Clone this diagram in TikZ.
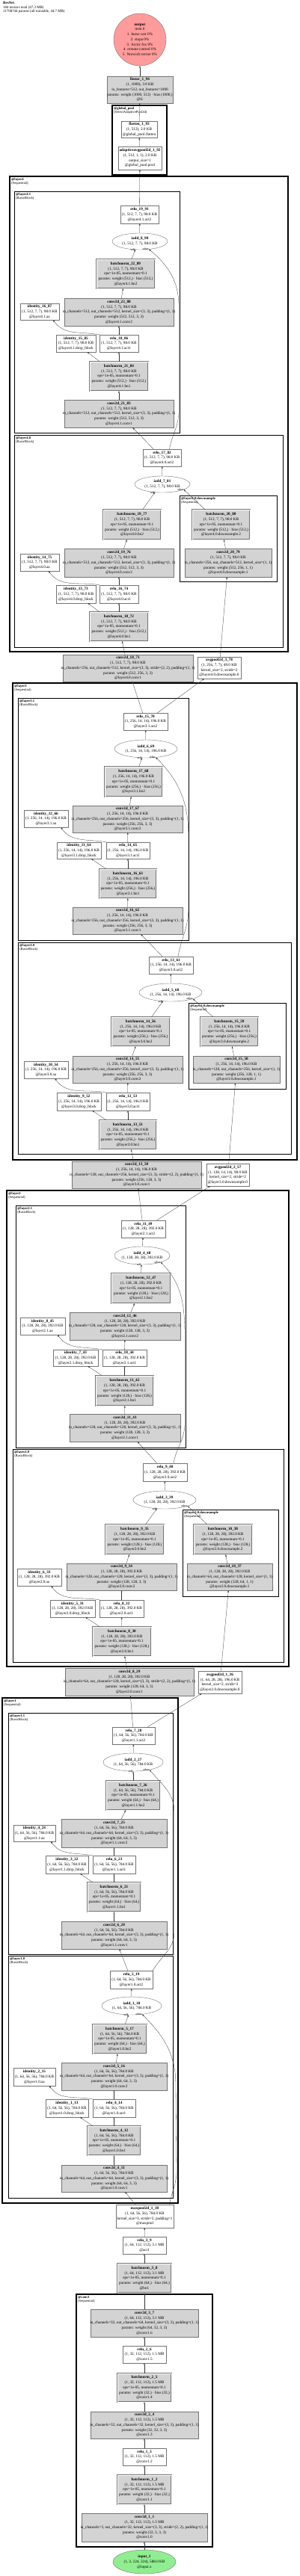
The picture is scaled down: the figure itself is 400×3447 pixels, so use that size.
\documentclass[tikz,border=0pt]{standalone}
\usepackage{fontspec}
\setmainfont{Liberation Serif}
\usetikzlibrary{arrows.meta, shapes.geometric}
\definecolor{ModGrey}{HTML}{D3D3D3}
\definecolor{OutPink}{HTML}{FF9B9B}
\definecolor{InGreen}{HTML}{90EE90}
\newcommand{\nodetext}[1]{\makebox[0pt]{\begin{tabular}{@{}c@{}}#1\end{tabular}}}

\begin{document}
\begin{tikzpicture}[x=1pt, y=-1pt,
  every node/.style={font=\fontsize{5.2}{6.7}\selectfont},
  op/.style={draw=black!55, fill=white, rectangle, inner sep=0pt},
  mod/.style={op, fill=ModGrey},
  bnorm/.style={mod, double=white, double distance=0.9pt, line width=0.4pt},
  sz/.style 2 args={minimum width=#1pt, minimum height=#2pt},
  addop/.style={draw=black!55, fill=white, ellipse, inner sep=0pt},
  clus/.style={draw=black, line width=1.2pt},
  subclus/.style={draw=black, line width=0.9pt},
  clab/.style={anchor=north west, inner sep=0pt, align=left, font=\fontsize{4.6}{5.2}\selectfont},
  flow/.style={-{Triangle[length=2.4pt, width=1.8pt]}, draw=black!80, line width=0.3pt},
  elab/.style={anchor=east, inner sep=0.4pt, font=\fontsize{3.9}{4.5}\selectfont}]
  \useasboundingbox (0,0) rectangle (400,3447);

  % Clusters
  \draw[clus] (150,141) rectangle (223,234);
  \draw[clus] (13,236) rectangle (385,872);
  \draw[subclus] (19,256) rectangle (240,579);
  \draw[subclus] (19,582) rectangle (378,866);
  \draw[subclus] (240,663) rectangle (370,778);
  \draw[clus] (17,914) rectangle (397,1552);
  \draw[subclus] (24,934) rectangle (252,1258);
  \draw[subclus] (24,1261) rectangle (389,1544);
  \draw[subclus] (252,1342) rectangle (382,1457);
  \draw[clus] (9,1593) rectangle (386,2230);
  \draw[subclus] (21,1613) rectangle (248,1937);
  \draw[subclus] (17,1939) rectangle (379,2224);
  \draw[subclus] (244,2020) rectangle (372,2136);
  \draw[clus] (3,2272) rectangle (238,2948);
  \draw[subclus] (11,2292) rectangle (231,2615);
  \draw[subclus] (11,2617) rectangle (231,2941);
  \draw[clus] (102,3070) rectangle (284,3408);
  \node[clab] (gplab) at (152,143) {\textbf{@global\_pool}\\(SelectAdaptivePool2d)};
  \node[clab] (l4lab) at (15,238) {\textbf{@layer4}\\(Sequential)};
  \node[clab] (l41lab) at (21,258) {\textbf{@layer4.1}\\(BasicBlock)};
  \node[clab] (l40lab) at (21,584) {\textbf{@layer4.0}\\(BasicBlock)};
  \node[clab] (ds4lab) at (242,665) {\textbf{@layer4.0.downsample}\\(Sequential)};
  \node[clab] (l3lab) at (19,916) {\textbf{@layer3}\\(Sequential)};
  \node[clab] (l31lab) at (26,936) {\textbf{@layer3.1}\\(BasicBlock)};
  \node[clab] (l30lab) at (26,1263) {\textbf{@layer3.0}\\(BasicBlock)};
  \node[clab] (ds3lab) at (254,1344) {\textbf{@layer3.0.downsample}\\(Sequential)};
  \node[clab] (l2lab) at (11,1595) {\textbf{@layer2}\\(Sequential)};
  \node[clab] (l21lab) at (23,1615) {\textbf{@layer2.1}\\(BasicBlock)};
  \node[clab] (l20lab) at (19,1941) {\textbf{@layer2.0}\\(BasicBlock)};
  \node[clab] (ds2lab) at (246,2022) {\textbf{@layer2.0.downsample}\\(Sequential)};
  \node[clab] (l1lab) at (5,2274) {\textbf{@layer1}\\(Sequential)};
  \node[clab] (l11lab) at (13,2294) {\textbf{@layer1.1}\\(BasicBlock)};
  \node[clab] (l10lab) at (13,2619) {\textbf{@layer1.0}\\(BasicBlock)};
  \node[clab] (c1lab) at (104,3072) {\textbf{@conv1}\\(Sequential)};

  % Header and head
  \node[anchor=north west, align=left, inner sep=0pt, font=\fontsize{4.9}{5.6}\selectfont] (title) at (4,2) {\textbf{ResNet}\\184 tensors total (47.3 MB)\\11708744 params (all trainable, 44.7 MB)};
  \node[circle, draw=black!55, fill=OutPink, minimum size=70pt, inner sep=0pt] (output) at (187,53) {\nodetext{\textbf{output}\\item 0\\1. horse cart 0\%\\2. stupa 0\%\\3. Arctic fox 0\%\\4. remote control 0\%\\5. Norwich terrier 0\%}};
  \node[mod, sz={88}{36}] (linear) at (187,120) {\nodetext{\textbf{linear\_1\_94}\\(1, 1000), 3.9 KB\\in\_features=512, out\_features=1000\\params: weight (1000, 512) · bias (1000,)\\@fc}};
  \node[op, sz={48}{22}] (flatten) at (186,173) {\nodetext{\textbf{flatten\_1\_93}\\(1, 512), 2.0 KB\\@global\_pool.flatten}};
  \node[op, sz={58}{31}] (gap) at (187,211.5) {\nodetext{\textbf{adaptiveavgpool2d\_1\_92}\\(1, 512, 1, 1), 2.0 KB\\output\_size=1\\@global\_pool.pool}};

  % Layer 4, block 1
  \node[op, sz={51}{24}] (relu19) at (186.5,287) {\nodetext{\textbf{relu\_19\_91}\\(1, 512, 7, 7), 98.0 KB\\@layer4.1.act2}};
  \node[addop, sz={74}{22}] (iadd8) at (187,323) {\nodetext{\textbf{iadd\_8\_90}\\(1, 512, 7, 7), 98.0 KB}};
  \node[bnorm, sz={78}{39}] (bn22) at (168,366.5) {\nodetext{\textbf{batchnorm\_22\_89}\\(1, 512, 7, 7), 98.0 KB\\eps=1e-05, momentum=0.1\\params: weight (512,) · bias (512,)\\@layer4.1.bn2}};
  \node[mod, sz={146}{37}] (conv22) at (159,417.5) {\nodetext{\textbf{conv2d\_22\_88}\\(1, 512, 7, 7), 98.0 KB\\in\_channels=512, out\_channels=512, kernel\_size=(3, 3), padding=(1, 1)\\params: weight (512, 512, 3, 3)\\@layer4.1.conv2}};
  \node[op, sz={52}{22}] (id16) at (53,417) {\nodetext{\textbf{identity\_16\_87}\\(1, 512, 7, 7), 98.0 KB\\@layer4.1.aa}};
  \node[op, sz={53}{23}] (id15) at (101.5,459.5) {\nodetext{\textbf{identity\_15\_85}\\(1, 512, 7, 7), 98.0 KB\\@layer4.1.drop\_block}};
  \node[op, sz={52}{23}] (relu18) at (159,459.5) {\nodetext{\textbf{relu\_18\_86}\\(1, 512, 7, 7), 98.0 KB\\@layer4.1.act1}};
  \node[bnorm, sz={78}{39}] (bn21) at (159,503.5) {\nodetext{\textbf{batchnorm\_21\_84}\\(1, 512, 7, 7), 98.0 KB\\eps=1e-05, momentum=0.1\\params: weight (512,) · bias (512,)\\@layer4.1.bn1}};
  \node[mod, sz={146}{37}] (conv21) at (159,553.5) {\nodetext{\textbf{conv2d\_21\_83}\\(1, 512, 7, 7), 98.0 KB\\in\_channels=512, out\_channels=512, kernel\_size=(3, 3), padding=(1, 1)\\params: weight (512, 512, 3, 3)\\@layer4.1.conv1}};

  % Layer 4, block 0
  \node[op, sz={51}{23}] (relu17) at (216.5,612.5) {\nodetext{\textbf{relu\_17\_82}\\(1, 512, 7, 7), 98.0 KB\\@layer4.0.act2}};
  \node[addop, sz={74}{22}] (iadd7) at (217,648) {\nodetext{\textbf{iadd\_7\_81}\\(1, 512, 7, 7), 98.0 KB}};
  \node[bnorm, sz={77}{40}] (bn19) at (176.5,702) {\nodetext{\textbf{batchnorm\_19\_77}\\(1, 512, 7, 7), 98.0 KB\\eps=1e-05, momentum=0.1\\params: weight (512,) · bias (512,)\\@layer4.0.bn2}};
  \node[bnorm, sz={77}{40}] (bn20) at (295.5,702) {\nodetext{\textbf{batchnorm\_20\_80}\\(1, 512, 7, 7), 98.0 KB\\eps=1e-05, momentum=0.1\\params: weight (512,) · bias (512,)\\@layer4.0.downsample.2}};
  \node[mod, sz={146}{38}] (conv19) at (159,753) {\nodetext{\textbf{conv2d\_19\_76}\\(1, 512, 7, 7), 98.0 KB\\in\_channels=512, out\_channels=512, kernel\_size=(3, 3), padding=(1, 1)\\params: weight (512, 512, 3, 3)\\@layer4.0.conv2}};
  \node[mod, sz={116}{38}] (conv20) at (305,753) {\nodetext{\textbf{conv2d\_20\_79}\\(1, 512, 7, 7), 98.0 KB\\in\_channels=256, out\_channels=512, kernel\_size=(1, 1)\\params: weight (512, 256, 1, 1)\\@layer4.0.downsample.1}};
  \node[op, sz={52}{23}] (id14) at (53,752.5) {\nodetext{\textbf{identity\_14\_75}\\(1, 512, 7, 7), 98.0 KB\\@layer4.0.aa}};
  \node[op, sz={53}{24}] (id13) at (101.5,795) {\nodetext{\textbf{identity\_13\_73}\\(1, 512, 7, 7), 98.0 KB\\@layer4.0.drop\_block}};
  \node[op, sz={52}{24}] (relu16) at (159,795) {\nodetext{\textbf{relu\_16\_74}\\(1, 512, 7, 7), 98.0 KB\\@layer4.0.act1}};
  \node[bnorm, sz={78}{39}] (bn18) at (159,838.5) {\nodetext{\textbf{batchnorm\_18\_72}\\(1, 512, 7, 7), 98.0 KB\\eps=1e-05, momentum=0.1\\params: weight (512,) · bias (512,)\\@layer4.0.bn1}};
  \node[mod, sz={174}{36}] (conv18) at (171,894) {\nodetext{\textbf{conv2d\_18\_71}\\(1, 512, 7, 7), 98.0 KB\\in\_channels=256, out\_channels=512, kernel\_size=(3, 3), stride=(2, 2), padding=(1, 1)\\params: weight (512, 256, 3, 3)\\@layer4.0.conv1}};
  \node[op, sz={58}{29}] (pool3) at (293,893.5) {\nodetext{\textbf{avgpool2d\_3\_78}\\(1, 256, 7, 7), 49.0 KB\\kernel\_size=2, stride=2\\@layer4.0.downsample.0}};

  % Layer 3, block 1
  \node[op, sz={59}{23}] (relu15) at (194.5,965.5) {\nodetext{\textbf{relu\_15\_70}\\(1, 256, 14, 14), 196.0 KB\\@layer3.1.act2}};
  \node[addop, sz={84}{24}] (iadd6) at (195,1002) {\nodetext{\textbf{iadd\_6\_69}\\(1, 256, 14, 14), 196.0 KB}};
  \node[bnorm, sz={77}{40}] (bn17) at (178.5,1046) {\nodetext{\textbf{batchnorm\_17\_68}\\(1, 256, 14, 14), 196.0 KB\\eps=1e-05, momentum=0.1\\params: weight (256,) · bias (256,)\\@layer3.1.bn2}};
  \node[mod, sz={147}{36}] (conv17) at (170.5,1096) {\nodetext{\textbf{conv2d\_17\_67}\\(1, 256, 14, 14), 196.0 KB\\in\_channels=256, out\_channels=256, kernel\_size=(3, 3), padding=(1, 1)\\params: weight (256, 256, 3, 3)\\@layer3.1.conv2}};
  \node[op, sz={59}{23}] (id12) at (61.5,1095.5) {\nodetext{\textbf{identity\_12\_66}\\(1, 256, 14, 14), 196.0 KB\\@layer3.1.aa}};
  \node[op, sz={59}{22}] (id11) at (105.5,1138) {\nodetext{\textbf{identity\_11\_64}\\(1, 256, 14, 14), 196.0 KB\\@layer3.1.drop\_block}};
  \node[op, sz={58}{22}] (relu14) at (171,1138) {\nodetext{\textbf{relu\_14\_65}\\(1, 256, 14, 14), 196.0 KB\\@layer3.1.act1}};
  \node[bnorm, sz={76}{39}] (bn16) at (171,1182.5) {\nodetext{\textbf{batchnorm\_16\_63}\\(1, 256, 14, 14), 196.0 KB\\eps=1e-05, momentum=0.1\\params: weight (256,) · bias (256,)\\@layer3.1.bn1}};
  \node[mod, sz={147}{36}] (conv16) at (170.5,1232) {\nodetext{\textbf{conv2d\_16\_62}\\(1, 256, 14, 14), 196.0 KB\\in\_channels=256, out\_channels=256, kernel\_size=(3, 3), padding=(1, 1)\\params: weight (256, 256, 3, 3)\\@layer3.1.conv1}};

  % Layer 3, block 0
  \node[op, sz={59}{23}] (relu13) at (228.5,1291.5) {\nodetext{\textbf{relu\_13\_61}\\(1, 256, 14, 14), 196.0 KB\\@layer3.0.act2}};
  \node[addop, sz={84}{24}] (iadd5) at (228,1328) {\nodetext{\textbf{iadd\_5\_60}\\(1, 256, 14, 14), 196.0 KB}};
  \node[bnorm, sz={78}{39}] (bn14) at (188,1380.5) {\nodetext{\textbf{batchnorm\_14\_56}\\(1, 256, 14, 14), 196.0 KB\\eps=1e-05, momentum=0.1\\params: weight (256,) · bias (256,)\\@layer3.0.bn2}};
  \node[bnorm, sz={77}{39}] (bn15) at (306.5,1380.5) {\nodetext{\textbf{batchnorm\_15\_59}\\(1, 256, 14, 14), 196.0 KB\\eps=1e-05, momentum=0.1\\params: weight (256,) · bias (256,)\\@layer3.0.downsample.2}};
  \node[mod, sz={147}{36}] (conv14) at (170.5,1431) {\nodetext{\textbf{conv2d\_14\_55}\\(1, 256, 14, 14), 196.0 KB\\in\_channels=256, out\_channels=256, kernel\_size=(3, 3), padding=(1, 1)\\params: weight (256, 256, 3, 3)\\@layer3.0.conv2}};
  \node[mod, sz={116}{36}] (conv15) at (316,1431) {\nodetext{\textbf{conv2d\_15\_58}\\(1, 256, 14, 14), 196.0 KB\\in\_channels=128, out\_channels=256, kernel\_size=(1, 1)\\params: weight (256, 128, 1, 1)\\@layer3.0.downsample.1}};
  \node[op, sz={59}{23}] (id10) at (61.5,1431.5) {\nodetext{\textbf{identity\_10\_54}\\(1, 256, 14, 14), 196.0 KB\\@layer3.0.aa}};
  \node[op, sz={59}{24}] (id9) at (105.5,1474) {\nodetext{\textbf{identity\_9\_52}\\(1, 256, 14, 14), 196.0 KB\\@layer3.0.drop\_block}};
  \node[op, sz={58}{24}] (relu12) at (171,1474) {\nodetext{\textbf{relu\_12\_53}\\(1, 256, 14, 14), 196.0 KB\\@layer3.0.act1}};
  \node[bnorm, sz={76}{39}] (bn13) at (171,1518.5) {\nodetext{\textbf{batchnorm\_13\_51}\\(1, 256, 14, 14), 196.0 KB\\eps=1e-05, momentum=0.1\\params: weight (256,) · bias (256,)\\@layer3.0.bn1}};
  \node[mod, sz={173}{36}] (conv13) at (182.5,1572) {\nodetext{\textbf{conv2d\_13\_50}\\(1, 256, 14, 14), 196.0 KB\\in\_channels=128, out\_channels=256, kernel\_size=(3, 3), stride=(2, 2), padding=(1, 1)\\params: weight (256, 128, 3, 3)\\@layer3.0.conv1}};
  \node[op, sz={57}{30}] (pool2) at (304.5,1572) {\nodetext{\textbf{avgpool2d\_2\_57}\\(1, 128, 14, 14), 98.0 KB\\kernel\_size=2, stride=2\\@layer3.0.downsample.0}};

  % Layer 2, block 1
  \node[op, sz={59}{23}] (relu11) at (191.5,1644.5) {\nodetext{\textbf{relu\_11\_49}\\(1, 128, 28, 28), 392.0 KB\\@layer2.1.act2}};
  \node[addop, sz={74}{24}] (iadd4) at (190,1680) {\nodetext{\textbf{iadd\_4\_48}\\(1, 128, 28, 28), 392.0 KB}};
  \node[bnorm, sz={79}{40}] (bn12) at (188.5,1724) {\nodetext{\textbf{batchnorm\_12\_47}\\(1, 128, 28, 28), 392.0 KB\\eps=1e-05, momentum=0.1\\params: weight (128,) · bias (128,)\\@layer2.1.bn2}};
  \node[mod, sz={148}{37}] (conv12) at (167,1774.5) {\nodetext{\textbf{conv2d\_12\_46}\\(1, 128, 28, 28), 392.0 KB\\in\_channels=128, out\_channels=128, kernel\_size=(3, 3), padding=(1, 1)\\params: weight (128, 128, 3, 3)\\@layer2.1.conv2}};
  \node[op, sz={60}{23}] (id8) at (57,1774.5) {\nodetext{\textbf{identity\_8\_45}\\(1, 128, 28, 28), 392.0 KB\\@layer2.1.aa}};
  \node[op, sz={60}{22}] (id7) at (101,1817) {\nodetext{\textbf{identity\_7\_43}\\(1, 128, 28, 28), 392.0 KB\\@layer2.1.drop\_block}};
  \node[op, sz={59}{22}] (relu10) at (166.5,1817) {\nodetext{\textbf{relu\_10\_44}\\(1, 128, 28, 28), 392.0 KB\\@layer2.1.act1}};
  \node[bnorm, sz={77}{40}] (bn11) at (166.5,1861) {\nodetext{\textbf{batchnorm\_11\_42}\\(1, 128, 28, 28), 392.0 KB\\eps=1e-05, momentum=0.1\\params: weight (128,) · bias (128,)\\@layer2.1.bn1}};
  \node[mod, sz={148}{37}] (conv11) at (167,1910.5) {\nodetext{\textbf{conv2d\_11\_41}\\(1, 128, 28, 28), 392.0 KB\\in\_channels=128, out\_channels=128, kernel\_size=(3, 3), padding=(1, 1)\\params: weight (128, 128, 3, 3)\\@layer2.1.conv1}};

  % Layer 2, block 0
  \node[op, sz={59}{24}] (relu9) at (220.5,1970) {\nodetext{\textbf{relu\_9\_40}\\(1, 128, 28, 28), 392.0 KB\\@layer2.0.act2}};
  \node[addop, sz={84}{24}] (iadd3) at (220,2007) {\nodetext{\textbf{iadd\_3\_39}\\(1, 128, 28, 28), 392.0 KB}};
  \node[bnorm, sz={78}{40}] (bn9) at (180,2060) {\nodetext{\textbf{batchnorm\_9\_35}\\(1, 128, 28, 28), 392.0 KB\\eps=1e-05, momentum=0.1\\params: weight (128,) · bias (128,)\\@layer2.0.bn2}};
  \node[bnorm, sz={78}{40}] (bn10) at (298,2060) {\nodetext{\textbf{batchnorm\_10\_38}\\(1, 128, 28, 28), 392.0 KB\\eps=1e-05, momentum=0.1\\params: weight (128,) · bias (128,)\\@layer2.0.downsample.2}};
  \node[mod, sz={147}{36}] (conv9) at (162.5,2110) {\nodetext{\textbf{conv2d\_9\_34}\\(1, 128, 28, 28), 392.0 KB\\in\_channels=128, out\_channels=128, kernel\_size=(3, 3), padding=(1, 1)\\params: weight (128, 128, 3, 3)\\@layer2.0.conv2}};
  \node[mod, sz={114}{36}] (conv10) at (307,2110) {\nodetext{\textbf{conv2d\_10\_37}\\(1, 128, 28, 28), 392.0 KB\\in\_channels=64, out\_channels=128, kernel\_size=(1, 1)\\params: weight (128, 64, 1, 1)\\@layer2.0.downsample.1}};
  \node[op, sz={59}{23}] (id6) at (52.5,2110.5) {\nodetext{\textbf{identity\_6\_33}\\(1, 128, 28, 28), 392.0 KB\\@layer2.0.aa}};
  \node[op, sz={60}{23}] (id5) at (97,2152.5) {\nodetext{\textbf{identity\_5\_31}\\(1, 128, 28, 28), 392.0 KB\\@layer2.0.drop\_block}};
  \node[op, sz={59}{23}] (relu8) at (162.5,2152.5) {\nodetext{\textbf{relu\_8\_32}\\(1, 128, 28, 28), 392.0 KB\\@layer2.0.act1}};
  \node[bnorm, sz={78}{39}] (bn8) at (163,2196.5) {\nodetext{\textbf{batchnorm\_8\_30}\\(1, 128, 28, 28), 392.0 KB\\eps=1e-05, momentum=0.1\\params: weight (128,) · bias (128,)\\@layer2.0.bn1}};
  \node[mod, sz={172}{37}] (conv8) at (173,2250.5) {\nodetext{\textbf{conv2d\_8\_29}\\(1, 128, 28, 28), 392.0 KB\\in\_channels=64, out\_channels=128, kernel\_size=(3, 3), stride=(2, 2), padding=(1, 1)\\params: weight (128, 64, 3, 3)\\@layer2.0.conv1}};
  \node[op, sz={58}{30}] (pool1) at (294,2251) {\nodetext{\textbf{avgpool2d\_1\_36}\\(1, 64, 28, 28), 196.0 KB\\kernel\_size=2, stride=2\\@layer2.0.downsample.0}};

  % Layer 1, block 1
  \node[op, sz={57}{23}] (relu7) at (178.5,2322.5) {\nodetext{\textbf{relu\_7\_28}\\(1, 64, 56, 56), 784.0 KB\\@layer1.1.act2}};
  \node[addop, sz={80}{24}] (iadd2) at (178,2358) {\nodetext{\textbf{iadd\_2\_27}\\(1, 64, 56, 56), 784.0 KB}};
  \node[bnorm, sz={72}{39}] (bn7) at (178,2402.5) {\nodetext{\textbf{batchnorm\_7\_26}\\(1, 64, 56, 56), 784.0 KB\\eps=1e-05, momentum=0.1\\params: weight (64,) · bias (64,)\\@layer1.1.bn2}};
  \node[mod, sz={141}{38}] (conv7) at (152.5,2453) {\nodetext{\textbf{conv2d\_7\_25}\\(1, 64, 56, 56), 784.0 KB\\in\_channels=64, out\_channels=64, kernel\_size=(3, 3), padding=(1, 1)\\params: weight (64, 64, 3, 3)\\@layer1.1.conv2}};
  \node[op, sz={56}{22}] (id4) at (46,2453) {\nodetext{\textbf{identity\_4\_24}\\(1, 64, 56, 56), 784.0 KB\\@layer1.1.aa}};
  \node[op, sz={57}{24}] (id3) at (89.5,2495) {\nodetext{\textbf{identity\_3\_22}\\(1, 64, 56, 56), 784.0 KB\\@layer1.1.drop\_block}};
  \node[op, sz={57}{24}] (relu6) at (152.5,2495) {\nodetext{\textbf{relu\_6\_23}\\(1, 64, 56, 56), 784.0 KB\\@layer1.1.act1}};
  \node[bnorm, sz={71}{39}] (bn6) at (152.5,2538.5) {\nodetext{\textbf{batchnorm\_6\_21}\\(1, 64, 56, 56), 784.0 KB\\eps=1e-05, momentum=0.1\\params: weight (64,) · bias (64,)\\@layer1.1.bn1}};
  \node[mod, sz={141}{37}] (conv6) at (152.5,2589.5) {\nodetext{\textbf{conv2d\_6\_20}\\(1, 64, 56, 56), 784.0 KB\\in\_channels=64, out\_channels=64, kernel\_size=(3, 3), padding=(1, 1)\\params: weight (64, 64, 3, 3)\\@layer1.1.conv1}};

  % Layer 1, block 0
  \node[op, sz={57}{24}] (relu5) at (175.5,2649) {\nodetext{\textbf{relu\_5\_19}\\(1, 64, 56, 56), 784.0 KB\\@layer1.0.act2}};
  \node[addop, sz={80}{24}] (iadd1) at (176,2684) {\nodetext{\textbf{iadd\_1\_18}\\(1, 64, 56, 56), 784.0 KB}};
  \node[bnorm, sz={72}{39}] (bn5) at (160,2728.5) {\nodetext{\textbf{batchnorm\_5\_17}\\(1, 64, 56, 56), 784.0 KB\\eps=1e-05, momentum=0.1\\params: weight (64,) · bias (64,)\\@layer1.0.bn2}};
  \node[mod, sz={141}{37}] (conv5) at (152.5,2778.5) {\nodetext{\textbf{conv2d\_5\_16}\\(1, 64, 56, 56), 784.0 KB\\in\_channels=64, out\_channels=64, kernel\_size=(3, 3), padding=(1, 1)\\params: weight (64, 64, 3, 3)\\@layer1.0.conv2}};
  \node[op, sz={56}{24}] (id2) at (46,2779) {\nodetext{\textbf{identity\_2\_15}\\(1, 64, 56, 56), 784.0 KB\\@layer1.0.aa}};
  \node[op, sz={57}{24}] (id1) at (89.5,2821) {\nodetext{\textbf{identity\_1\_13}\\(1, 64, 56, 56), 784.0 KB\\@layer1.0.drop\_block}};
  \node[op, sz={57}{24}] (relu4) at (152.5,2821) {\nodetext{\textbf{relu\_4\_14}\\(1, 64, 56, 56), 784.0 KB\\@layer1.0.act1}};
  \node[bnorm, sz={71}{39}] (bn4) at (152.5,2864.5) {\nodetext{\textbf{batchnorm\_4\_12}\\(1, 64, 56, 56), 784.0 KB\\eps=1e-05, momentum=0.1\\params: weight (64,) · bias (64,)\\@layer1.0.bn1}};
  \node[mod, sz={141}{36}] (conv4) at (152.5,2915) {\nodetext{\textbf{conv2d\_4\_11}\\(1, 64, 56, 56), 784.0 KB\\in\_channels=64, out\_channels=64, kernel\_size=(3, 3), padding=(1, 1)\\params: weight (64, 64, 3, 3)\\@layer1.0.conv1}};

  % Stem
  \node[op, sz={77}{31}] (maxpool) at (193.5,2965.5) {\nodetext{\textbf{maxpool2d\_1\_10}\\(1, 64, 56, 56), 784.0 KB\\kernel\_size=3, stride=2, padding=1\\@maxpool}};
  \node[op, sz={58}{23}] (relu3) at (193,3004.5) {\nodetext{\textbf{relu\_3\_9}\\(1, 64, 112, 112), 3.1 MB\\@act1}};
  \node[bnorm, sz={72}{39}] (bn3) at (193,3048.5) {\nodetext{\textbf{batchnorm\_3\_8}\\(1, 64, 112, 112), 3.1 MB\\eps=1e-05, momentum=0.1\\params: weight (64,) · bias (64,)\\@bn1}};
  \node[mod, sz={144}{37}] (conv3) at (193,3108.5) {\nodetext{\textbf{conv2d\_3\_7}\\(1, 64, 112, 112), 3.1 MB\\in\_channels=32, out\_channels=64, kernel\_size=(3, 3), padding=(1, 1)\\params: weight (64, 32, 3, 3)\\@conv1.6}};
  \node[op, sz={58}{23}] (relu2) at (193,3150.5) {\nodetext{\textbf{relu\_2\_6}\\(1, 32, 112, 112), 1.5 MB\\@conv1.5}};
  \node[bnorm, sz={72}{38}] (bn2) at (193,3195) {\nodetext{\textbf{batchnorm\_2\_5}\\(1, 32, 112, 112), 1.5 MB\\eps=1e-05, momentum=0.1\\params: weight (32,) · bias (32,)\\@conv1.4}};
  \node[mod, sz={144}{36}] (conv2) at (193,3245) {\nodetext{\textbf{conv2d\_2\_4}\\(1, 32, 112, 112), 1.5 MB\\in\_channels=32, out\_channels=32, kernel\_size=(3, 3), padding=(1, 1)\\params: weight (32, 32, 3, 3)\\@conv1.3}};
  \node[op, sz={58}{23}] (relu1) at (193,3287.5) {\nodetext{\textbf{relu\_1\_3}\\(1, 32, 112, 112), 1.5 MB\\@conv1.2}};
  \node[bnorm, sz={72}{39}] (bn1) at (193,3331.5) {\nodetext{\textbf{batchnorm\_1\_2}\\(1, 32, 112, 112), 1.5 MB\\eps=1e-05, momentum=0.1\\params: weight (32,) · bias (32,)\\@conv1.1}};
  \node[mod, sz={168}{38}] (conv1) at (193,3382) {\nodetext{\textbf{conv2d\_1\_1}\\(1, 32, 112, 112), 1.5 MB\\in\_channels=3, out\_channels=32, kernel\_size=(3, 3), stride=(2, 2), padding=(1, 1)\\params: weight (32, 3, 3, 3)\\@conv1.0}};
  \node[addop, fill=InGreen, sz={84}{32}] (input) at (193,3428) {\nodetext{\textbf{input\_1}\\(1, 3, 224, 224), 588.0 KB\\@input.x}};

  % Edges: head
  \draw[flow] (linear) -- (output);
  \draw[flow] (flatten) -- (linear);
  \draw[flow] (gap) -- (flatten);
  \draw[flow] (relu19) -- (gap);

  % Edges: layer 4
  \draw[flow] (iadd8) -- (relu19);
  \draw[flow] (bn22) -- (iadd8.-119) node[elab] (s8) {self};
  \draw[flow] ([xshift=10pt]relu17.north) to[out=80,in=-90] (239,550) -- (239,410) to[out=90,in=-40] (iadd8.-41) node[elab] (o8) {other};
  \draw[flow] (conv22) -- (bn22);
  \draw[flow] (relu18) -- (conv22);
  \draw[flow] (relu18.north west) to[out=170,in=-55] ([xshift=18pt]id16.south);
  \draw[flow] (bn21) -- (id15);
  \draw[flow] (bn21) -- (relu18);
  \draw[flow] (conv21) -- (bn21);
  \draw[flow] (relu17) -- (conv21);
  \draw[flow] (iadd7) -- (relu17);
  \draw[flow] (bn19) -- (iadd7.-133) node[elab] (s7) {self};
  \draw[flow] (bn20) -- (iadd7.-14) node[elab] (o7) {other};
  \draw[flow] (conv19) -- (bn19);
  \draw[flow] (conv20) -- (bn20);
  \draw[flow] (relu16) -- (conv19);
  \draw[flow] (relu16.north west) to[out=170,in=-55] ([xshift=12pt]id14.south);
  \draw[flow] (bn18) -- (id13);
  \draw[flow] (bn18) -- (relu16);
  \draw[flow] (conv18) -- (bn18);
  \draw[flow] (pool3) -- (conv20);

  % Edges: layer 3
  \draw[flow] (relu15) -- (conv18);
  \draw[flow] (relu15) -- (pool3);
  \draw[flow] (iadd6) -- (relu15);
  \draw[flow] (bn17) -- (iadd6.-113) node[elab] (s6) {self};
  \draw[flow] ([xshift=9.5pt]relu13.north) to[out=80,in=-90] (252,1215) -- (252,1120) to[out=90,in=-45] (iadd6.-41) node[elab] (o6) {other};
  \draw[flow] (conv17) -- (bn17);
  \draw[flow] (relu14) -- (conv17);
  \draw[flow] (relu14.north west) to[out=170,in=-55] ([xshift=20pt]id12.south);
  \draw[flow] (bn16) -- (id11);
  \draw[flow] (bn16) -- (relu14);
  \draw[flow] (conv16) -- (bn16);
  \draw[flow] (relu13) -- (conv16);
  \draw[flow] (iadd5) -- (relu13);
  \draw[flow] (bn14) -- (iadd5.-131) node[elab] (s5) {self};
  \draw[flow] (bn15) -- (iadd5.-16) node[elab] (o5) {other};
  \draw[flow] (conv14) -- (bn14);
  \draw[flow] (conv15) -- (bn15);
  \draw[flow] (relu12) -- (conv14);
  \draw[flow] (relu12.north west) to[out=170,in=-55] ([xshift=12pt]id10.south);
  \draw[flow] (bn13) -- (id9);
  \draw[flow] (bn13) -- (relu12);
  \draw[flow] (conv13) -- (bn13);
  \draw[flow] (pool2) -- (conv15);

  % Edges: layer 2
  \draw[flow] (relu11) -- (conv13);
  \draw[flow] (relu11) -- (pool2);
  \draw[flow] (iadd4) -- (relu11);
  \draw[flow] (bn12) -- (iadd4.-95) node[elab] (s4) {self};
  \draw[flow] ([xshift=11.5pt]relu9.north) to[out=80,in=-90] (247,1905) -- (247,1790) to[out=90,in=-45] (iadd4.-20) node[elab] (o4) {other};
  \draw[flow] (conv12) -- (bn12);
  \draw[flow] (relu10) -- (conv12);
  \draw[flow] (relu10.north west) to[out=170,in=-55] ([xshift=20pt]id8.south);
  \draw[flow] (bn11) -- (id7);
  \draw[flow] (bn11) -- (relu10);
  \draw[flow] (conv11) -- (bn11);
  \draw[flow] (relu9) -- (conv11);
  \draw[flow] (iadd3) -- (relu9);
  \draw[flow] (bn9) -- (iadd3.-131) node[elab] (s3) {self};
  \draw[flow] (bn10) -- (iadd3.-15) node[elab] (o3) {other};
  \draw[flow] (conv9) -- (bn9);
  \draw[flow] (conv10) -- (bn10);
  \draw[flow] (relu8) -- (conv9);
  \draw[flow] (relu8.north west) to[out=170,in=-55] ([xshift=16pt]id6.south);
  \draw[flow] (bn8) -- (id5);
  \draw[flow] (bn8) -- (relu8);
  \draw[flow] (conv8) -- (bn8);
  \draw[flow] (pool1) -- (conv10);

  % Edges: layer 1
  \draw[flow] (relu7) -- (conv8);
  \draw[flow] (relu7) -- (pool1);
  \draw[flow] (iadd2) -- (relu7);
  \draw[flow] (bn7) -- (iadd2.-90) node[elab] (s2) {self};
  \draw[flow] (relu5.north east) to[out=60,in=-90] (233,2585) -- (233,2425) to[out=90,in=-50] (iadd2.-25) node[elab] (o2) {other};
  \draw[flow] (conv7) -- (bn7);
  \draw[flow] (relu6) -- (conv7);
  \draw[flow] (relu6.north west) to[out=170,in=-55] ([xshift=22pt]id4.south);
  \draw[flow] (bn6) -- (id3);
  \draw[flow] (bn6) -- (relu6);
  \draw[flow] (conv6) -- (bn6);
  \draw[flow] (relu5) -- (conv6);
  \draw[flow] (iadd1) -- (relu5);
  \draw[flow] (bn5) -- (iadd1.-109) node[elab] (s1) {self};
  \draw[flow] ([xshift=33pt]maxpool.north) to[out=80,in=-90] (236,2905) -- (235,2790) to[out=90,in=-45] (iadd1.-39) node[elab] (o1) {other};
  \draw[flow] (conv5) -- (bn5);
  \draw[flow] (relu4) -- (conv5);
  \draw[flow] (relu4.north west) to[out=170,in=-55] ([xshift=20pt]id2.south);
  \draw[flow] (bn4) -- (id1);
  \draw[flow] (bn4) -- (relu4);
  \draw[flow] (conv4) -- (bn4);
  \draw[flow] (maxpool) -- (conv4);

  % Edges: stem
  \foreach \a/\b in {relu3/maxpool, bn3/relu3, conv3/bn3, relu2/conv3, bn2/relu2,
                     conv2/bn2, relu1/conv2, bn1/relu1, conv1/bn1, input/conv1}
    \draw[flow] (\a) -- (\b);
\end{tikzpicture}
\end{document}
